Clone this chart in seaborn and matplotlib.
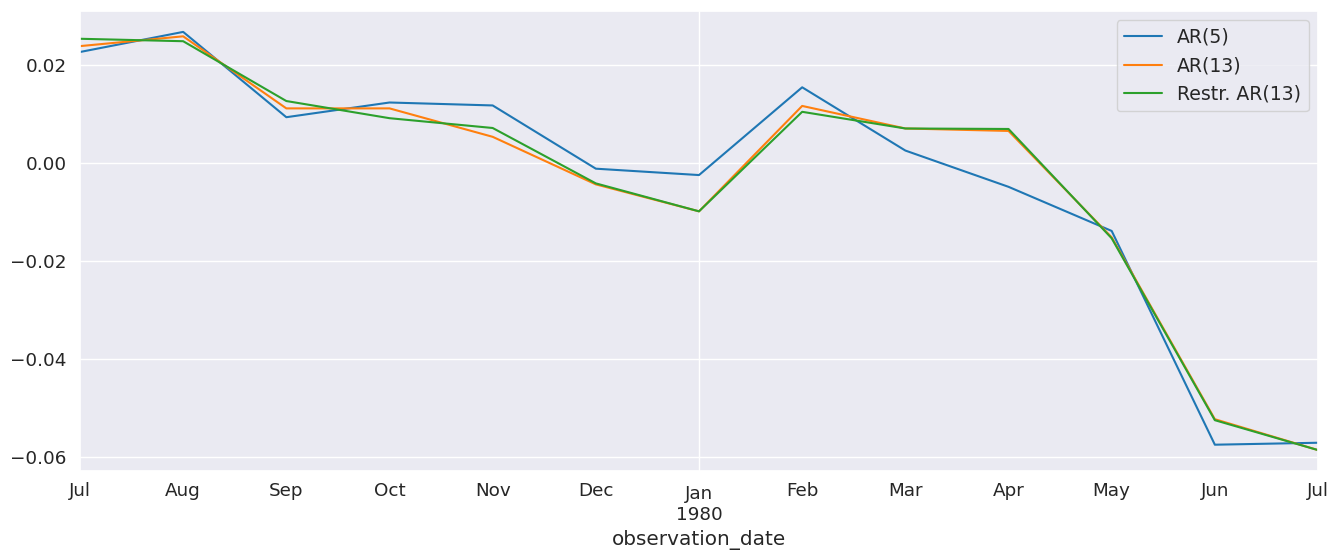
import numpy as np
import pandas as pd
import matplotlib
matplotlib.use("Agg")
import matplotlib.pyplot as plt
import matplotlib.ticker as mticker
import seaborn as sns

months = ["Jul", "Aug", "Sep", "Oct", "Nov", "Dec", "Jan\n1980", "Feb", "Mar", "Apr", "May", "Jun", "Jul"]
ar5 = [0.0227, 0.0268, 0.0094, 0.0124, 0.0118, -0.0011, -0.0024, 0.0155, 0.0026, -0.0048, -0.0138, -0.0574, -0.0570]
ar13 = [0.0239, 0.0259, 0.0112, 0.0112, 0.0054, -0.0043, -0.0098, 0.0117, 0.0071, 0.0066, -0.0151, -0.0522, -0.0585]
restr_ar13 = [0.0254, 0.0249, 0.0127, 0.0092, 0.0072, -0.0041, -0.0098, 0.0105, 0.0071, 0.0070, -0.0153, -0.0524, -0.0585]
series_names = ["AR(5)", "AR(13)", "Restr. AR(13)"]

period = np.arange(len(months))
wide = pd.DataFrame({"AR(5)": ar5, "AR(13)": ar13, "Restr. AR(13)": restr_ar13})
wide["observation_date"] = period
long = wide.melt(id_vars="observation_date", var_name="model", value_name="value")

sns.set_theme(style="darkgrid", font_scale=1.2)

fig, ax = plt.subplots(figsize=(13.4, 5.58), dpi=100)
fig.subplots_adjust(left=0.0597, right=0.9836, top=0.9803, bottom=0.1559)

sns.lineplot(data=long, x="observation_date", y="value", hue="model",
             hue_order=series_names, palette="tab10", ax=ax, linewidth=1.5)

ax.set_xlim(period[0], period[-1])
jan_idx = months.index("Jan\n1980")
ax.xaxis.set_major_locator(mticker.FixedLocator([period[jan_idx]]))
ax.xaxis.set_major_formatter(mticker.FixedFormatter([months[jan_idx]]))
minor_pos = [p for i, p in enumerate(period) if i != jan_idx]
minor_lab = [m for i, m in enumerate(months) if i != jan_idx]
ax.xaxis.set_minor_locator(mticker.FixedLocator(minor_pos))
ax.xaxis.set_minor_formatter(mticker.FixedFormatter(minor_lab))
ax.tick_params(axis="x", which="both", labelsize=13.2, pad=4.2)
ax.grid(True, which="major", axis="both")
ax.grid(False, which="minor")
ax.set_xlabel("observation_date")
ax.set_ylabel("")
ax.legend(loc="upper right", title=None, fontsize=13.6)

fig.savefig("out.png", dpi=100)
